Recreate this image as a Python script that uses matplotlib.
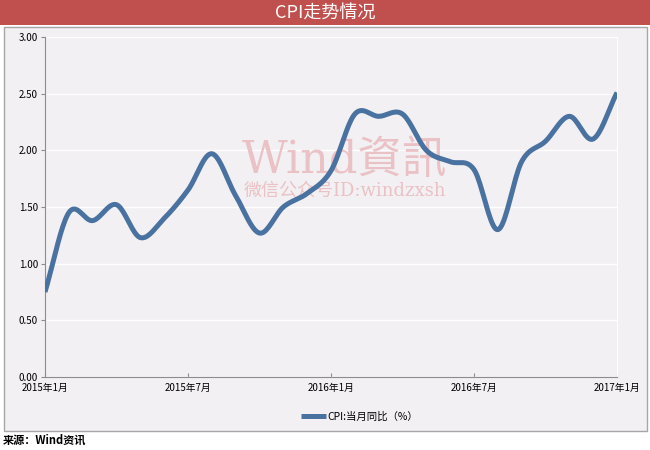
import numpy as np
import matplotlib
matplotlib.use('Agg')
import matplotlib.pyplot as plt
from matplotlib.patches import Rectangle

plt.rcParams['font.family'] = ['Noto Sans CJK SC', 'DejaVu Sans']

# CPI monthly YoY, 2015-01 .. 2017-01
cpi_values = [0.75, 1.45, 1.38, 1.52, 1.23, 1.40, 1.65, 1.97, 1.60, 1.27, 1.50, 1.62,
              1.82, 2.32, 2.30, 2.32, 2.00, 1.90, 1.83, 1.30, 1.90, 2.08, 2.30, 2.10, 2.51]
tick_months = [0, 6, 12, 18, 24]
tick_labels = ['2015年1月', '2015年7月', '2016年1月', '2016年7月', '2017年1月']
y_ticks = [0.0, 0.5, 1.0, 1.5, 2.0, 2.5, 3.0]
title = 'CPI走势情况'
series_name = 'CPI:当月同比（%）'
source = '来源：Wind资讯'


def smooth_line(y, steps=20):
    # Catmull-Rom through the points, like Excel's smoothed line
    y = np.asarray(y, dtype=float)
    p = np.concatenate([[2 * y[0] - y[1]], y, [2 * y[-1] - y[-2]]])
    xs, ys = [], []
    t = np.linspace(0, 1, steps, endpoint=False)
    for i in range(len(y) - 1):
        p0, p1, p2, p3 = p[i], p[i + 1], p[i + 2], p[i + 3]
        seg = 0.5 * ((2 * p1) + (-p0 + p2) * t + (2 * p0 - 5 * p1 + 4 * p2 - p3) * t ** 2
                     + (-p0 + 3 * p1 - 3 * p2 + p3) * t ** 3)
        xs.extend(i + t)
        ys.extend(seg)
    xs.append(len(y) - 1)
    ys.append(y[-1])
    return np.array(xs), np.array(ys)


fig = plt.figure(figsize=(6.5, 4.5), dpi=100)
fig.patch.set_facecolor('white')

# title banner
fig.add_artist(Rectangle((0, 1 - 25 / 450), 1, 25 / 450, transform=fig.transFigure,
                         facecolor='#c0504d', edgecolor='none', zorder=-2))
fig.text(0.5, 1 - 12.5 / 450, title, color='white', fontsize=13, ha='center', va='center')

# chart panel
fig.add_artist(Rectangle((4 / 650, 1 - 431 / 450), 643 / 650, 404 / 450, transform=fig.transFigure,
                         facecolor='#f2f0f2', edgecolor='#a6a6a6', linewidth=1.0, zorder=-2))

ax = fig.add_axes([45 / 650, 73 / 450, 572 / 650, 340 / 450])
ax.set_zorder(1)
ax.set_facecolor('#f2f0f2')

xs, ys = smooth_line(cpi_values)
ax.plot(xs, ys, color='#4a72a0', linewidth=3.6, solid_capstyle='butt', label=series_name, zorder=3)

ax.set_xlim(0, 24)
ax.set_ylim(0, 3)
ax.set_yticks(y_ticks)
ax.set_yticklabels(['%.2f' % v for v in y_ticks], fontsize=7)
ax.set_xticks(tick_months)
ax.set_xticklabels(tick_labels, fontsize=7)
ax.tick_params(axis='y', direction='out', length=3, color='#8c8c8c', pad=2)
ax.tick_params(axis='x', direction='in', length=3, color='#8c8c8c', pad=4)
ax.grid(axis='y', color='white', linewidth=1.0)
ax.set_axisbelow(True)
ax.spines['top'].set_visible(False)
ax.spines['right'].set_color('white')
ax.spines['left'].set_color('#8c8c8c')
ax.spines['bottom'].set_color('#8c8c8c')

# watermark (under the line)
ax.text((344 - 45) / 572, 1 - (160 - 37) / 340, 'Wind資訊', color='#e8b6ba', fontsize=32,
        transform=ax.transAxes, ha='center', va='center',
        family=['DejaVu Serif', 'Noto Sans CJK SC'], zorder=2, alpha=0.8)
ax.text((345 - 45) / 572, 1 - (191 - 37) / 340, '微信公众号ID:windzxsh', color='#e8b6ba', fontsize=13,
        transform=ax.transAxes, ha='center', va='center',
        family=['DejaVu Serif', 'Noto Sans CJK SC'], zorder=2, alpha=0.8)

leg = ax.legend(loc='upper center', bbox_to_anchor=(0.55, -0.075), frameon=False, fontsize=7.5,
                handlelength=2.4, handletextpad=0.1)

fig.text(3 / 650, 1 - 440 / 450, source, fontsize=8, fontweight='bold', ha='left', va='center')

fig.savefig('out.png', dpi=100, facecolor='white')
